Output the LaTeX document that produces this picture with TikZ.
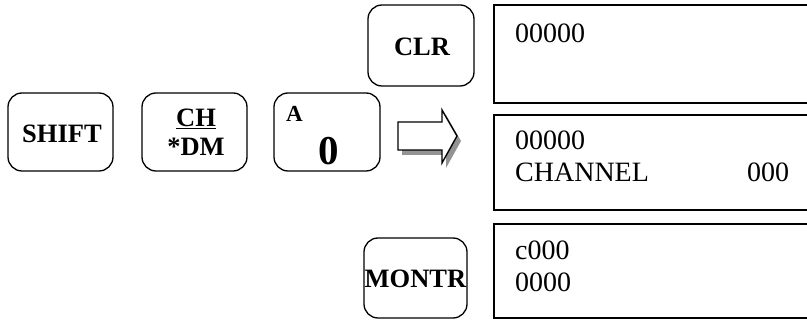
\documentclass[tikz,border=0pt]{standalone}
\usepackage{fontspec}
\setmainfont{Liberation Serif}
\begin{document}
\begin{tikzpicture}[x=1pt,y=-1pt,
  keybox/.style={draw,line width=1.3pt,rounded corners=14pt,inner sep=0pt},
  disp/.style={draw,line width=1.3pt,inner sep=0pt},
  keytxt/.style={font=\fontsize{26.5}{28}\selectfont\bfseries,inner sep=0pt},
  disptxt/.style={font=\fontsize{28}{30}\selectfont,inner sep=0pt,anchor=base west}]
\useasboundingbox (0,0) rectangle (807,320);
% keys
\node[keybox,minimum width=105pt,minimum height=78pt] (shift) at (60.5,132) {};
\node[keytxt] (shifttxt) at (62,134) {SHIFT};
\node[keybox,minimum width=105pt,minimum height=78pt] (ch) at (194.5,132) {};
\node[keytxt,anchor=base] (chtxt) at (196,127) {\underline{CH}};
\node[keytxt,anchor=base] (dmtxt) at (196,156) {*DM};
\node[keybox,minimum width=106pt,minimum height=78pt] (a0) at (327,132) {};
\node[font=\fontsize{23}{25}\selectfont\bfseries,inner sep=0pt,anchor=base west] (atxt) at (286,122) {A};
\node[font=\fontsize{41}{44}\selectfont\bfseries,inner sep=0pt,anchor=base] (zero) at (329,165) {0};
\node[keybox,minimum width=106pt,minimum height=81pt] (clr) at (421,45.5) {};
\node[keytxt] (clrtxt) at (422,47) {CLR};
\node[keybox,minimum width=103pt,minimum height=80pt] (montr) at (415.5,278) {};
\node[keytxt] (montrtxt) at (415.5,279) {MONTR};
% arrow with shadow
\fill[gray!85] (402,127) -- (446,127) -- (446,115) -- (461,141) -- (446,168) -- (446,155) -- (402,155) -- cycle;
\draw[line width=1.4pt,fill=white] (398,122) -- (442,122) -- (442,110) -- (457,136) -- (442,163) -- (442,150) -- (398,150) -- cycle;
% displays
\draw[disp] (830,5) -- (494,5) -- (494,103) -- (830,103);
\draw[disp] (830,115) -- (494,115) -- (494,210) -- (830,210);
\draw[disp] (830,224) -- (494,224) -- (494,318) -- (830,318);
\node[disptxt] (d1) at (515,43) {00000};
\node[disptxt] (d2a) at (515,150) {00000};
\node[disptxt] (d2b) at (515,182) {CHANNEL};
\node[disptxt] (d2c) at (747,182) {000};
\node[disptxt] (d3a) at (515,260) {c000};
\node[disptxt] (d3b) at (515,292) {0000};
\end{tikzpicture}
\end{document}
